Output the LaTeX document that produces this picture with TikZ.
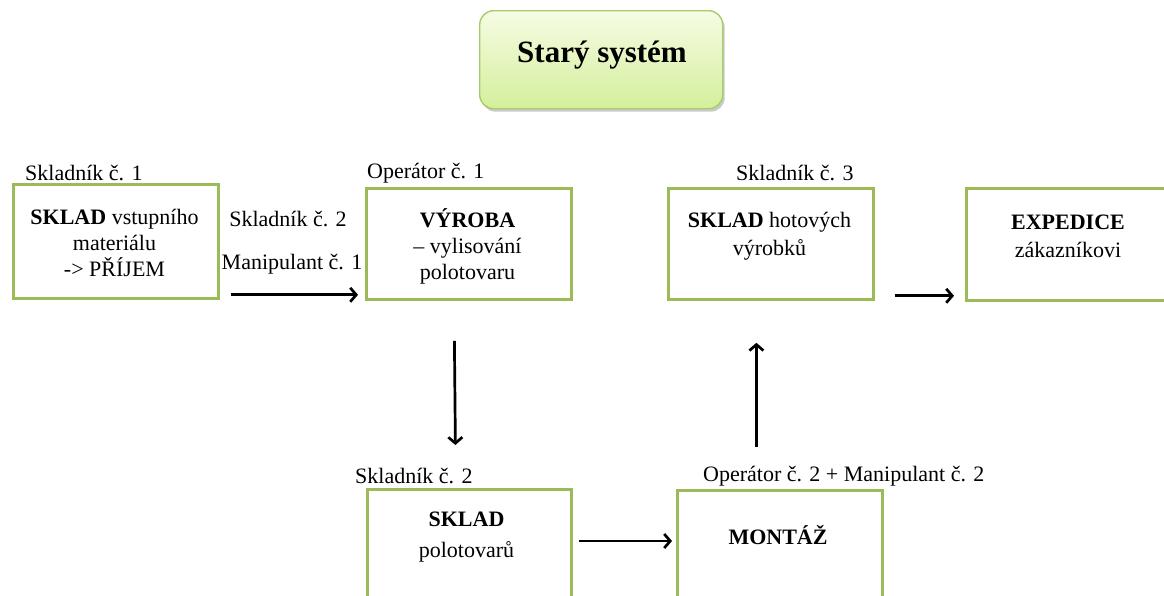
\documentclass[tikz,border=0pt]{standalone}
\usepackage{fontspec}
\setmainfont{Liberation Serif}
\usetikzlibrary{arrows.meta,shadows}
\definecolor{boxgreen}{RGB}{155,187,89}
\definecolor{titleborder}{RGB}{165,205,105}
\definecolor{titletop}{RGB}{246,252,228}
\definecolor{titlebot}{RGB}{212,239,155}
\tikzset{
  box/.style={draw=boxgreen, line width=2.8pt, fill=white, anchor=north west, inner sep=0pt},
  txt/.style={font=\fontsize{22}{26}\selectfont, align=center, inner sep=0pt},
  lbl/.style={font=\fontsize{22}{26}\selectfont, inner sep=0pt, anchor=west},
  arr/.style={line width=2.7pt, -{Straight Barb[length=6pt,width=14pt]}},
  titlebox/.style={draw=titleborder, line width=1.4pt, rounded corners=14pt,
    top color=titletop, bottom color=titlebot, anchor=north west, inner sep=0pt,
    drop shadow={shadow xshift=2pt, shadow yshift=-3pt, opacity=0.35, fill=black!60}}
}
\begin{document}
\begin{tikzpicture}[x=1pt,y=-1pt]
\useasboundingbox (0,0) rectangle (1164,595);
\clip (0,0) rectangle (1164,595);
% title
\node[titlebox, minimum width=243pt, minimum height=98pt] (title) at (479,10) {};
\node[font=\fontsize{31}{36}\selectfont\bfseries, inner sep=0pt] (titletext) at (602,55) {Starý systém};
% boxes
\node[box, minimum width=205pt, minimum height=114pt] (b1) at (12,183) {};
\node[box, minimum width=205pt, minimum height=111pt] (b2) at (365,187) {};
\node[box, minimum width=205pt, minimum height=111pt] (b3) at (667,187) {};
\node[box, minimum width=230pt, minimum height=112pt] (b4) at (965,187) {};
\node[box, minimum width=204pt, minimum height=130pt] (b5) at (366,488) {};
\node[box, minimum width=205pt, minimum height=130pt] (b6) at (676,489) {};
% box texts
\node[txt] (t1) at (114.5,243) {\textbf{SKLAD} vstupního\\materiálu\\-> PŘÍJEM};
\node[txt] (t2) at (467.5,246) {\textbf{VÝROBA}\\– vylisování\\polotovaru};
\node[txt] (t3) at (769.5,236) {\textbf{SKLAD} hotových\\[2pt]výrobků};
\node[txt] (t4) at (1068,236) {\textbf{EXPEDICE}\\[2pt]zákazníkovi};
\node[txt] (t5) at (466.5,537) {\textbf{SKLAD}\\[5pt]polotovarů};
\node[txt, font=\fontsize{22}{26}\selectfont\bfseries] (t6) at (778,535) {MONTÁŽ};
% labels
\node[lbl] (l1) at (25,173) {Skladník č. 1};
\node[lbl] (l2) at (367,173) {Operátor č. 1};
\node[lbl] (l3) at (736,173) {Skladník č. 3};
\node[lbl, anchor=center] (l4) at (288,219) {Skladník č. 2};
\node[lbl, anchor=center] (l5) at (292,264) {Manipulant č. 1};
\node[lbl] (l6) at (355,476) {Skladník č. 2};
\node[lbl] (l7) at (703,476) {Operátor č. 2 + Manipulant č. 2};
% arrows
\draw[arr] ([xshift=11pt,yshift=5pt]b1.south east) -- ([xshift=-7pt,yshift=6pt]b2.south west);
\draw[arr] ([xshift=-14.5pt,yshift=-40pt]b2.south) -- ([xshift=-14pt,yshift=43pt]b5.north);
\draw[arr] ([xshift=-23.5pt,yshift=42pt]b6.north) -- ([xshift=-14.5pt,yshift=-42pt]b3.south);
\draw[arr] ([xshift=20pt,yshift=5pt]b3.south east) -- ([xshift=-11pt,yshift=6pt]b4.south west);
\draw[arr] ([xshift=6pt,yshift=-53pt]b5.north east) -- ([xshift=-4pt,yshift=-52pt]b6.north west);
\end{tikzpicture}
\end{document}
